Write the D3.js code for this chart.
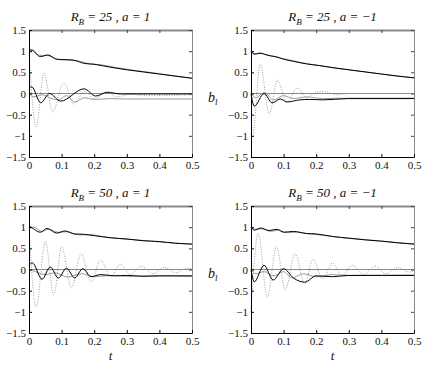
<!DOCTYPE html>
<html>
<head>
<meta charset="utf-8">
<script src="https://cdn.jsdelivr.net/npm/d3@7"></script>
<style>
    body { margin: 0; background: #fff; }
    svg { display: block; }
</style>
</head>
<body>
<svg id="chart" width="436" height="371"></svg>
<script>
// panel titles
const rValues = [25, 25, 50, 50];
const aLabels = ["1", "\u22121", "1", "\u22121"];

// axis ticks
const xTicks = [0, 0.1, 0.2, 0.3, 0.4, 0.5];
const yTicks = [-1.5, -1, -0.5, 0, 0.5, 1, 1.5];

// curves: [t, b]
// R_B = 25, a = 1
const p1TopBlack = [[0,1.04],[0.01,1.02],[0.035,0.87],[0.058,0.91],[0.085,0.81],[0.11,0.8],[0.135,0.79],[0.17,0.71],[0.2,0.69],[0.25,0.62],[0.3,0.56],[0.35,0.51],[0.4,0.46],[0.45,0.41],[0.5,0.36]];
const p1TopGray = [[0,1.0],[0.012,1.03],[0.03,0.9],[0.05,0.9],[0.065,0.88],[0.09,0.8],[0.12,0.79],[0.15,0.77],[0.18,0.71],[0.22,0.68],[0.27,0.61],[0.32,0.55],[0.38,0.49],[0.44,0.42],[0.5,0.36]];
const p1Dotted = [[0,0.98],[0.022,-0.79],[0.046,0.48],[0.072,-0.43],[0.107,0.25],[0.138,-0.25],[0.17,0.05],[0.2,-0.12],[0.24,0.03],[0.27,-0.08],[0.31,-0.02],[0.36,-0.05],[0.5,-0.03]];
const p1Black = [[0,0.1],[0.008,0.16],[0.036,-0.22],[0.063,0.0],[0.097,-0.18],[0.169,0.11],[0.205,-0.06],[0.24,0.03],[0.28,-0.01],[0.5,-0.01]];
const p1Gray = [[0,0],[0.015,-0.08],[0.04,-0.03],[0.07,-0.12],[0.09,-0.15],[0.115,-0.05],[0.14,-0.2],[0.17,-0.1],[0.2,-0.14],[0.25,-0.12],[0.3,-0.13],[0.4,-0.13],[0.5,-0.13]];

// R_B = 25, a = -1
const p2TopBlack = [[0,1.0],[0.01,0.93],[0.03,0.95],[0.045,0.92],[0.06,0.89],[0.08,0.86],[0.1,0.81],[0.13,0.76],[0.17,0.7],[0.21,0.66],[0.26,0.6],[0.3,0.56],[0.35,0.51],[0.4,0.46],[0.45,0.41],[0.5,0.37]];
const p2TopGray = [[0,0.98],[0.012,0.94],[0.028,0.96],[0.05,0.9],[0.07,0.88],[0.095,0.83],[0.125,0.78],[0.16,0.72],[0.2,0.67],[0.25,0.61],[0.3,0.56],[0.4,0.46],[0.5,0.37]];
const p2Dotted = [[0,-0.97],[0.005,-1.0],[0.028,0.69],[0.056,-0.48],[0.081,0.31],[0.11,-0.2],[0.142,0.13],[0.17,-0.1],[0.2,0.03],[0.225,0.05],[0.26,-0.03],[0.3,0.0],[0.5,0.0]];
const p2Black = [[0,0],[0.01,-0.3],[0.04,0.0],[0.065,-0.22],[0.09,-0.13],[0.11,-0.2],[0.15,-0.15],[0.18,-0.14],[0.22,-0.15],[0.3,-0.12],[0.5,-0.12]];
const p2Gray = [[0,0],[0.015,-0.1],[0.04,0.02],[0.07,-0.15],[0.1,-0.05],[0.13,-0.12],[0.17,-0.08],[0.22,-0.12],[0.3,-0.11],[0.5,-0.11]];

// R_B = 50, a = 1
const p3TopBlack = [[0,1.03],[0.01,0.98],[0.035,0.88],[0.055,0.97],[0.085,0.86],[0.11,0.91],[0.14,0.84],[0.17,0.83],[0.2,0.8],[0.25,0.75],[0.3,0.72],[0.35,0.68],[0.4,0.66],[0.45,0.62],[0.5,0.6]];
const p3TopGray = [[0,1.0],[0.015,1.0],[0.04,0.9],[0.06,0.95],[0.09,0.88],[0.115,0.89],[0.15,0.82],[0.19,0.82],[0.23,0.77],[0.28,0.73],[0.33,0.7],[0.4,0.65],[0.5,0.6]];
const p3Dotted = [[0,1.0],[0.022,-0.88],[0.05,0.66],[0.076,-0.6],[0.1,0.54],[0.13,-0.43],[0.16,0.37],[0.19,-0.29],[0.22,0.22],[0.25,-0.17],[0.28,0.12],[0.31,-0.12],[0.345,0.08],[0.38,-0.1],[0.415,0.05],[0.45,-0.08],[0.485,0.03],[0.5,0.01]];
const p3Black = [[0,0.1],[0.01,0.16],[0.04,-0.23],[0.065,0.06],[0.09,-0.2],[0.115,0.03],[0.14,-0.2],[0.165,0.02],[0.19,-0.17],[0.22,-0.12],[0.26,-0.15],[0.3,-0.14],[0.35,-0.16],[0.4,-0.15],[0.5,-0.15]];
const p3Gray = [[0,0],[0.02,-0.05],[0.05,-0.12],[0.08,-0.08],[0.12,-0.18],[0.16,-0.1],[0.2,-0.17],[0.25,-0.14],[0.3,-0.16],[0.4,-0.15],[0.5,-0.16]];

// R_B = 50, a = -1
const p4TopBlack = [[0,1.0],[0.01,0.93],[0.03,0.98],[0.055,0.92],[0.08,0.95],[0.1,0.88],[0.13,0.9],[0.17,0.85],[0.2,0.84],[0.25,0.78],[0.3,0.74],[0.35,0.7],[0.4,0.67],[0.45,0.63],[0.5,0.6]];
const p4TopGray = [[0,0.98],[0.015,0.95],[0.035,0.96],[0.06,0.9],[0.085,0.93],[0.11,0.87],[0.14,0.88],[0.18,0.84],[0.22,0.81],[0.27,0.76],[0.33,0.72],[0.4,0.67],[0.5,0.6]];
const p4Dotted = [[0,-1.0],[0.022,0.85],[0.05,-0.65],[0.078,0.55],[0.105,-0.48],[0.135,0.37],[0.165,-0.33],[0.19,0.24],[0.22,-0.22],[0.25,0.15],[0.28,-0.15],[0.31,0.1],[0.345,-0.12],[0.38,0.08],[0.415,-0.1],[0.45,0.05],[0.485,-0.06],[0.5,-0.03]];
const p4Black = [[0,0],[0.01,-0.29],[0.04,0.1],[0.068,-0.25],[0.1,0.02],[0.13,-0.2],[0.165,-0.3],[0.2,-0.15],[0.25,-0.17],[0.3,-0.14],[0.4,-0.14],[0.5,-0.14]];
const p4Gray = [[0,0],[0.015,-0.1],[0.04,-0.05],[0.07,-0.15],[0.1,-0.05],[0.125,-0.2],[0.16,-0.1],[0.2,-0.17],[0.25,-0.12],[0.3,-0.14],[0.5,-0.13]];

const panelW = 163;
const panelH = 127;
const panelX = [29, 251];
const panelY = [30, 206];
const serif = "Liberation Serif";

const panels = [
    { x: panelX[0], y: panelY[0], r: rValues[0], a: aLabels[0], curves: [p1Gray, p1Dotted, p1Black, p1TopGray, p1TopBlack] },
    { x: panelX[1], y: panelY[0], r: rValues[1], a: aLabels[1], curves: [p2Gray, p2Dotted, p2Black, p2TopGray, p2TopBlack] },
    { x: panelX[0], y: panelY[1], r: rValues[2], a: aLabels[2], curves: [p3Gray, p3Dotted, p3Black, p3TopGray, p3TopBlack] },
    { x: panelX[1], y: panelY[1], r: rValues[3], a: aLabels[3], curves: [p4Gray, p4Dotted, p4Black, p4TopGray, p4TopBlack] }
];

// stroke style for each curve slot
const curveStyles = [
    { stroke: "#999", dash: null, width: 1 },
    { stroke: "#a0a0a0", dash: "1,1.5", width: 1 },
    { stroke: "#000", dash: null, width: 1 },
    { stroke: "#999", dash: null, width: 1 },
    { stroke: "#000", dash: null, width: 1 }
];

const svg = d3.select("#chart").attr("font-family", serif);
svg.append("rect").attr("width", 436).attr("height", 371).attr("fill", "#fff");

const xScale = d3.scaleLinear().domain([0, 0.5]).range([0, panelW]);
const yScale = d3.scaleLinear().domain([-1.5, 1.5]).range([panelH, 0]);
const fmt = d3.format("");

const line = d3.line()
    .x(d => xScale(d[0]))
    .y(d => yScale(d[1]))
    .curve(d3.curveMonotoneX);

panels.forEach((p, i) => {
    const g = svg.append("g").attr("transform", `translate(${p.x},${p.y})`);

    // zero line
    g.append("line")
        .attr("x1", 0).attr("x2", panelW)
        .attr("y1", yScale(0)).attr("y2", yScale(0))
        .attr("stroke", "#8a8a8a");

    p.curves.forEach((c, k) => {
        const s = curveStyles[k];
        g.append("path")
            .datum(c)
            .attr("d", line)
            .attr("fill", "none")
            .attr("stroke", s.stroke)
            .attr("stroke-width", s.width)
            .attr("stroke-dasharray", s.dash);
    });

    // top and right frame, gray, ticks inward
    const top = g.append("g").call(d3.axisTop(xScale).tickValues(xTicks).tickSize(-3).tickSizeOuter(0).tickFormat(""));
    top.select(".domain").attr("stroke", "#8a8a8a").attr("stroke-width", 2);
    top.selectAll(".tick line").attr("stroke", "#444");

    const right = g.append("g").attr("transform", `translate(${panelW},0)`)
        .call(d3.axisRight(yScale).tickValues(yTicks).tickSize(-3).tickSizeOuter(0).tickFormat(""));
    right.select(".domain").attr("stroke", "#8a8a8a");
    right.selectAll(".tick line").attr("stroke", "#444");

    // left and bottom axes
    const bottom = g.append("g").attr("transform", `translate(0,${panelH})`)
        .call(d3.axisBottom(xScale).tickValues(xTicks).tickSize(-3).tickSizeOuter(0).tickPadding(4).tickFormat(fmt));
    const left = g.append("g")
        .call(d3.axisLeft(yScale).tickValues(yTicks).tickSize(-3).tickSizeOuter(0).tickPadding(3).tickFormat(fmt));

    [bottom, left].forEach(ax => {
        ax.attr("font-family", serif).attr("font-size", 11);
        ax.selectAll("text").attr("fill", "#111");
    });

    // title
    const title = g.append("text")
        .attr("x", panelW / 2)
        .attr("y", -9)
        .attr("text-anchor", "middle")
        .attr("font-family", serif)
        .attr("font-size", 13)
        .attr("font-style", "italic")
        .attr("fill", "#111");
    title.append("tspan").text("R");
    title.append("tspan").attr("dy", 4).attr("font-size", 9).text("B");
    title.append("tspan").attr("dy", -4).text(` = ${p.r} , a = ${p.a}`);

    // b_l label sits between the columns, one per row
    if (i % 2 === 1) {
        const yl = g.append("text")
            .attr("x", -43)
            .attr("y", yScale(0) + 8)
            .attr("font-family", serif)
            .attr("font-size", 14)
            .attr("font-style", "italic")
            .attr("fill", "#111");
        yl.append("tspan").text("b");
        yl.append("tspan").attr("dy", 3).attr("font-size", 9).text("l");
    }

    // t label under the bottom row
    if (i >= 2) {
        g.append("text")
            .attr("x", panelW / 2)
            .attr("y", panelH + 27)
            .attr("text-anchor", "middle")
            .attr("font-family", serif)
            .attr("font-size", 13)
            .attr("font-style", "italic")
            .attr("fill", "#111")
            .text("t");
    }
});
</script>
</body>
</html>
